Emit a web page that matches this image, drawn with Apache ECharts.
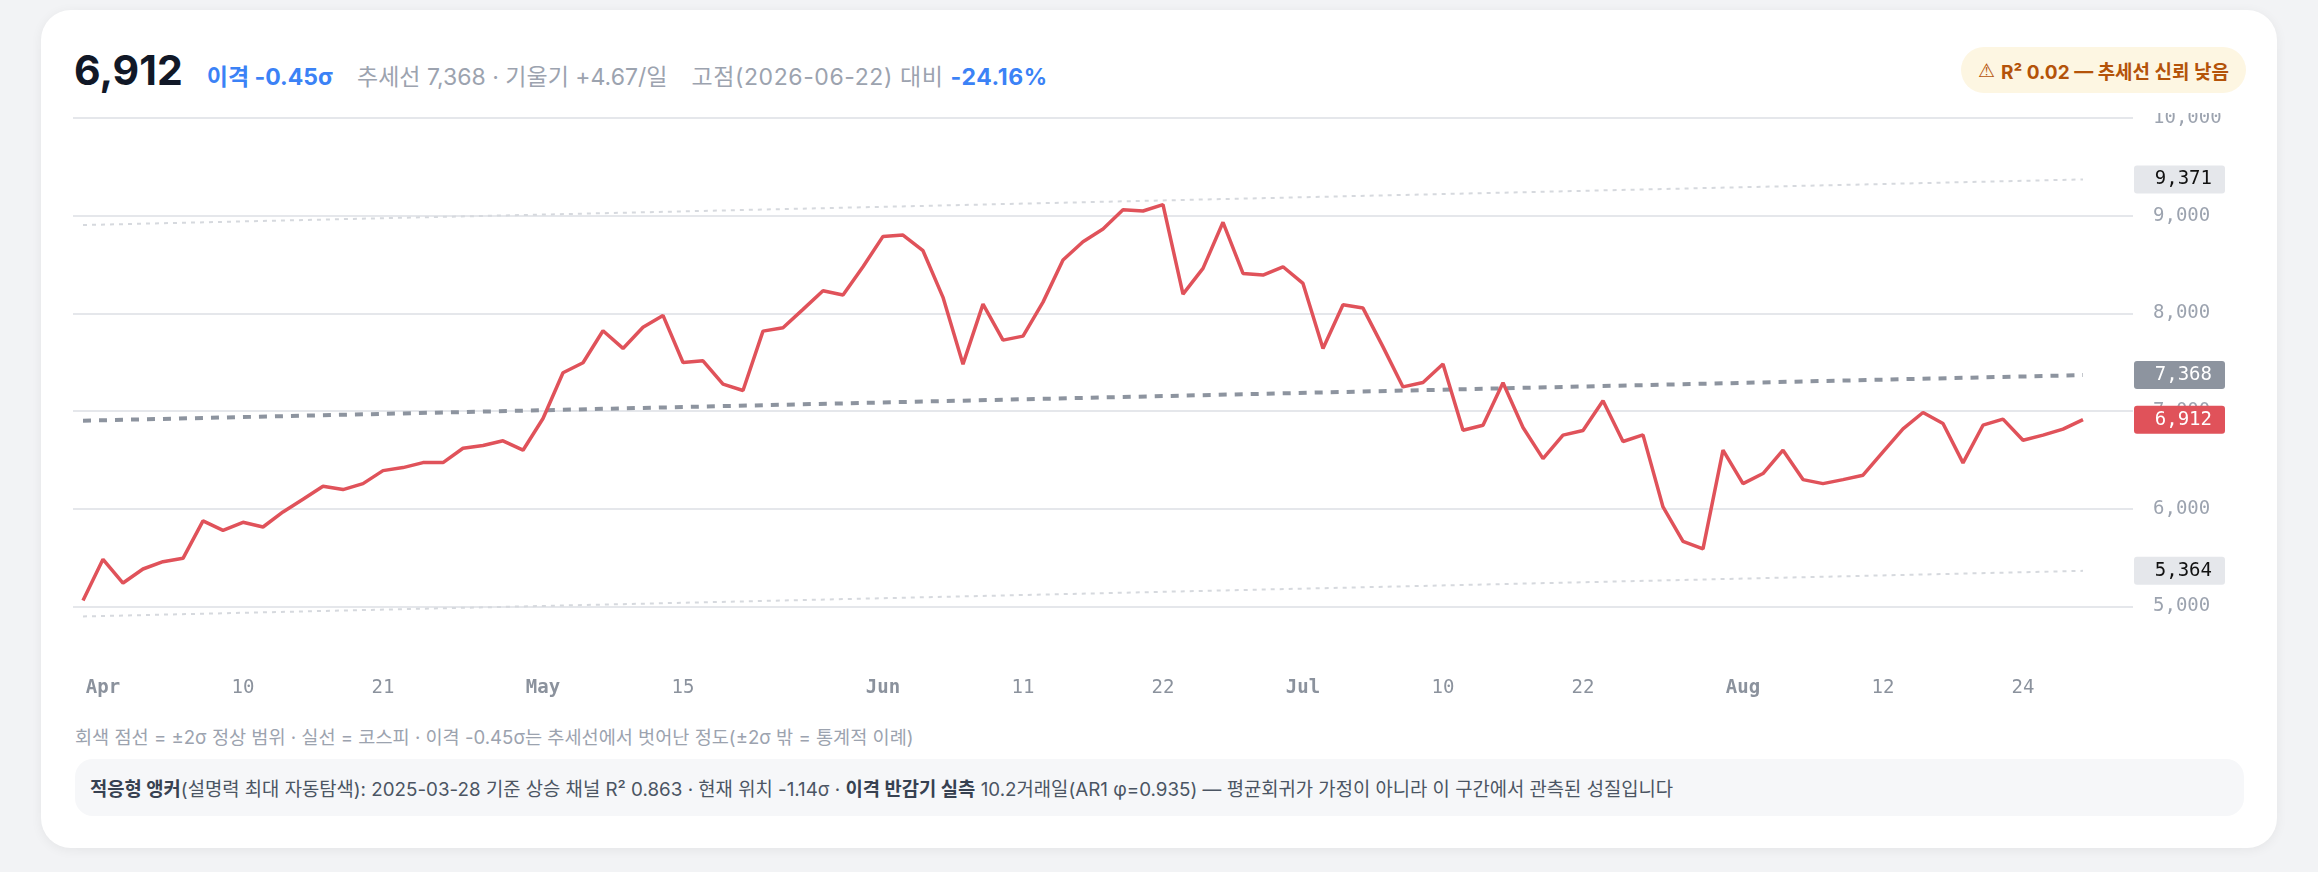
<!DOCTYPE html>
<html>
<head>
<meta charset="utf-8">
<title>코스피 추세선 이격</title>
<script src="https://cdn.jsdelivr.net/npm/echarts@6/dist/echarts.min.js"></script>
<style>
    html, body { margin: 0; padding: 0; background: #f2f3f5; }
    body { width: 2318px; height: 872px; overflow: hidden; font-family: Inter, "Noto Sans CJK KR", sans-serif; }
    .card { position: absolute; left: 41px; top: 10px; width: 2236px; height: 838px; background: #fff; border-radius: 30px; box-shadow: 0 2px 12px rgba(0,0,0,0.06); }
    .head { position: absolute; left: 33px; top: 36px; display: flex; align-items: baseline; white-space: nowrap; }
    .big { font-size: 41px; font-weight: 700; color: #111827; line-height: 48px; }
    .dev { margin-left: 24px; font-size: 23px; font-weight: 700; color: #3b82f6; }
    .sub { margin-left: 24px; font-size: 23px; color: #9ca3af; }
    .sub.peak { letter-spacing: 0.6px; }
    .neg { font-weight: 700; color: #3b82f6; }
    .badge { position: absolute; right: 31px; top: 37px; height: 46px; padding: 0 17px; border-radius: 23px; background: #fdf6e2; color: #b45309; font-size: 19px; font-weight: 700; display: flex; align-items: center; white-space: nowrap; }
    .badge .warn { font-family: "DejaVu Sans", sans-serif; font-weight: 400; margin-right: 6px; }
    #chart { position: absolute; left: 0; top: 103px; width: 2236px; height: 600px; }
    .note { position: absolute; left: 34px; top: 714px; font-size: 18.6px; line-height: 26px; color: #9ca3af; white-space: nowrap; }
    .box { position: absolute; left: 34px; top: 749px; width: 2169px; height: 57px; border-radius: 18px; background: #f6f7f9; box-sizing: border-box; padding-left: 15px; display: flex; align-items: center; font-size: 18.8px; color: #4b5563; white-space: nowrap; }
    .box b { color: #374151; }
</style>
</head>
<body>
<div class="card">
    <div class="head">
        <span class="big">6,912</span>
        <span class="dev">이격 -0.45σ</span>
        <span class="sub">추세선 7,368 · 기울기 +4.67/일</span>
        <span class="sub peak">고점(2026-06-22) 대비 <span class="neg">-24.16%</span></span>
    </div>
    <div class="badge"><span class="warn">⚠&#xFE0E;</span>R² 0.02 — 추세선 신뢰 낮음</div>

    <div id="chart"></div>

    <div class="note">회색 점선 = ±2σ 정상 범위 · 실선 = 코스피 · 이격 -0.45σ는 추세선에서 벗어난 정도(±2σ 밖 = 통계적 이례)</div>
    <div class="box"><span><b>적응형 앵커</b>(설명력 최대 자동탐색): 2025-03-28 기준 상승 채널 R² 0.863 · 현재 위치 -1.14σ · <b>이격 반감기 실측</b> 10.2거래일(AR1 φ=0.935) — 평균회귀가 가정이 아니라 이 구간에서 관측된 성질입니다</span></div>
</div>

<script>
    // 종가 (2026-03-31 ~ 2026-08-27, 거래일 기준)
    var closeVals = [
        5061, 5482, 5239, 5383, 5458, 5492, 5875, 5779, 5861, 5813,
        5967, 6097, 6230, 6196, 6257, 6390, 6421, 6472, 6472, 6619,
        6647, 6695, 6599, 6923, 7392, 7494, 7822, 7641, 7857, 7979,
        7497, 7514, 7275, 7210, 7818, 7853, 8041, 8232, 8188, 8477,
        8788, 8802, 8641, 8164, 7480, 8095, 7726, 7767, 8115, 8546,
        8733, 8863, 9061, 9048, 9114, 8197, 8460, 8932, 8409, 8392,
        8477, 8306, 7640, 8088, 8054, 7657, 7247, 7292, 7482, 6804,
        6855, 7289, 6831, 6513, 6753, 6801, 7105, 6688, 6756, 6018,
        5666, 5588, 6599, 6257, 6360, 6599, 6298, 6257, 6298, 6343,
        6582, 6818, 6985, 6872, 6469, 6855, 6917, 6701, 6753, 6815,
        6912
    ];
    // 추세선 / ±2σ 밴드 (시작, 끝)
    var trendEnds = [6901, 7368];
    var upperEnds = [8904, 9371];
    var lowerEnds = [4897, 5364];

    // 거래일 달력
    var firstDay = '2026-03-31';
    var holidays = ['2026-05-01', '2026-05-04', '2026-05-05', '2026-05-25', '2026-06-03', '2026-07-17', '2026-08-17'];
    var padDays = 2; // 오른쪽 빈 칸

    // x축 라벨
    var tickDates = ['2026-04-01', '2026-04-10', '2026-04-21', '2026-05-06', '2026-05-15', '2026-06-01', '2026-06-11',
        '2026-06-22', '2026-07-01', '2026-07-10', '2026-07-22', '2026-08-03', '2026-08-12', '2026-08-24'];
    var tickLabels = ['Apr', '10', '21', 'May', '15', 'Jun', '11', '22', 'Jul', '10', '22', 'Aug', '12', '24'];
    var monthNames = ['Apr', 'May', 'Jun', 'Jul', 'Aug'];

    var dates = [];
    var d = new Date(firstDay + 'T00:00:00Z');
    while (dates.length < closeVals.length + padDays) {
        var s = d.toISOString().slice(0, 10);
        var wd = d.getUTCDay();
        if (wd !== 0 && wd !== 6 && holidays.indexOf(s) < 0) dates.push(s);
        d.setUTCDate(d.getUTCDate() + 1);
    }
    var lastDay = dates[closeVals.length - 1];

    var MONO = '"DejaVu Sans Mono", monospace';
    function fmt(v) { return Math.round(v).toLocaleString('en-US'); }

    // 오른쪽 값 표시 박스
    function endTag(v, bg, fg) {
        return {
            yAxis: v,
            label: {
                show: true,
                opacity: 1,
                formatter: '{v|' + fmt(v) + '}',
                backgroundColor: bg,
                rich: { v: { width: 66, align: 'right', color: fg, fontFamily: MONO, fontSize: 19, lineHeight: 20 } }
            }
        };
    }

    var chart = echarts.init(document.getElementById('chart'));
    var option = {
        animation: false,
        grid: { left: 32, right: 144, top: 5, bottom: 48, outerBoundsMode: 'none', containLabel: false },
        xAxis: {
            type: 'category',
            data: dates,
            boundaryGap: true,
            axisLine: { show: false },
            axisTick: { show: false },
            splitLine: { show: false },
            axisLabel: {
                margin: 14,
                interval: function (idx, value) { return tickDates.indexOf(value) >= 0; },
                formatter: function (value) {
                    var k = tickDates.indexOf(value);
                    if (k < 0) return '';
                    var t = tickLabels[k];
                    return monthNames.indexOf(t) >= 0 ? '{m|' + t + '}' : '{d|' + t + '}';
                },
                rich: {
                    m: { fontFamily: MONO, fontSize: 19, fontWeight: 'bold', color: '#8b929d' },
                    d: { fontFamily: MONO, fontSize: 19, color: '#8b929d' }
                }
            }
        },
        yAxis: {
            type: 'value',
            position: 'right',
            min: 4400,
            max: 10000,
            axisLine: { show: false },
            axisTick: { show: false },
            splitLine: { show: true, showMinLine: false, lineStyle: { color: '#e5e7eb', width: 2 } },
            axisLabel: {
                showMinLabel: false,
                margin: 20,
                fontFamily: MONO,
                fontSize: 19,
                color: '#9ca3af',
                formatter: fmt
            }
        },
        series: [
            {
                name: '상단 2σ', type: 'line', symbol: 'none', silent: true,
                data: [[dates[0], upperEnds[0]], [lastDay, upperEnds[1]]],
                lineStyle: { color: '#d6d9de', width: 2, type: [4, 5] }
            },
            {
                name: '하단 2σ', type: 'line', symbol: 'none', silent: true,
                data: [[dates[0], lowerEnds[0]], [lastDay, lowerEnds[1]]],
                lineStyle: { color: '#d6d9de', width: 2, type: [4, 5] }
            },
            {
                name: '추세선', type: 'line', symbol: 'none', silent: true,
                data: [[dates[0], trendEnds[0]], [lastDay, trendEnds[1]]],
                lineStyle: { color: '#8d949f', width: 4, type: [8, 8] }
            },
            {
                name: '코스피', type: 'line', symbol: 'none', z: 5, clip: false,
                data: closeVals,
                lineStyle: { color: '#e0525a', width: 3.5 },
                markLine: {
                    silent: true,
                    symbol: 'none',
                    animation: false,
                    lineStyle: { color: 'rgba(0,0,0,0)', width: 0, opacity: 1 },
                    label: { show: true, position: 'end', distance: 1, padding: [4, 13, 4, 12], borderRadius: 3 },
                    emphasis: { disabled: true },
                    data: [
                        endTag(upperEnds[1], '#e5e7eb', '#111111'),
                        endTag(trendEnds[1], '#8d949f', '#ffffff'),
                        endTag(closeVals[closeVals.length - 1], '#e0525a', '#ffffff'),
                        endTag(lowerEnds[1], '#e5e7eb', '#111111')
                    ]
                }
            }
        ]
    };
    chart.setOption(option);
</script>
</body>
</html>
